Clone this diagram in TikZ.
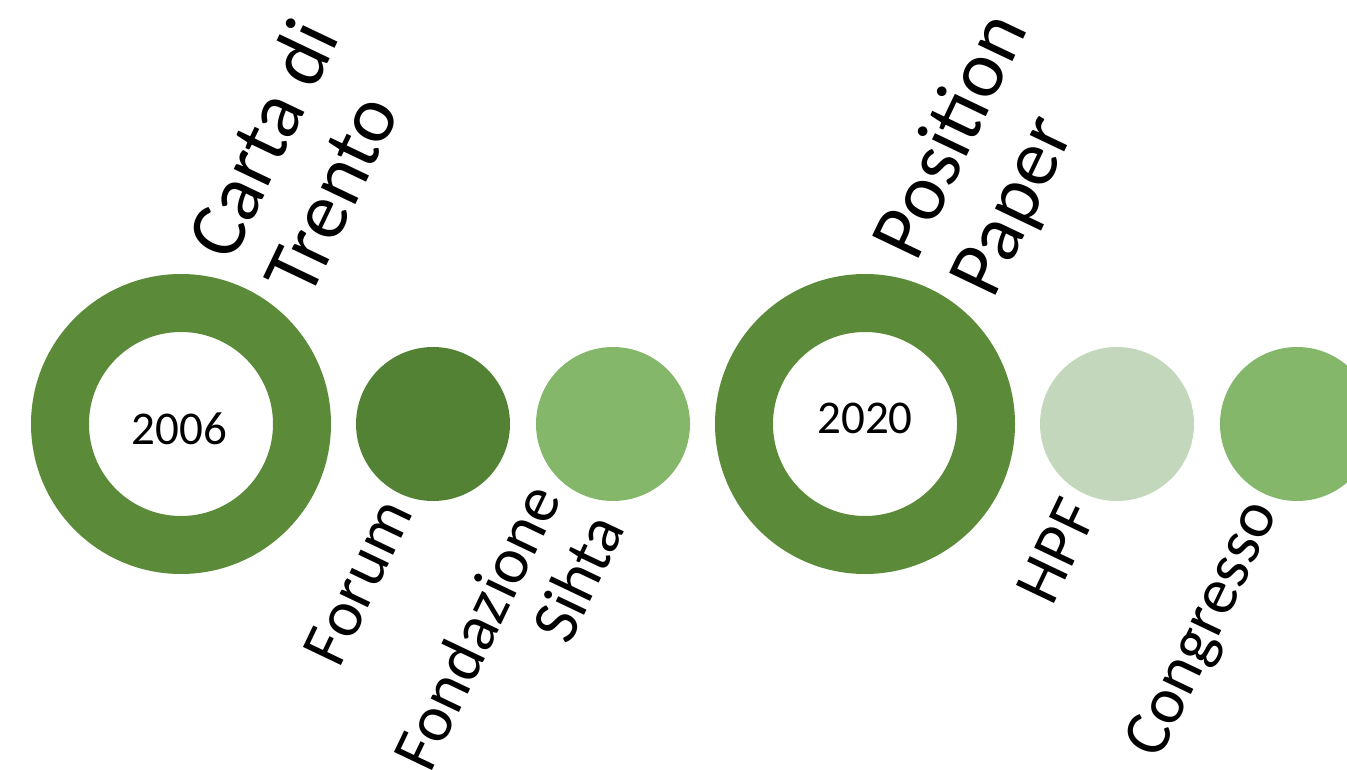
\documentclass[tikz,border=0pt]{standalone}
\usepackage{fontspec}
\setmainfont{Carlito}
\definecolor{ringgreen}{RGB}{91,139,57}
\definecolor{darkgreen}{RGB}{84,130,53}
\definecolor{midgreen}{RGB}{133,183,107}
\definecolor{palegreen}{RGB}{195,215,188}
\tikzset{
  ringnode/.style={circle, draw=ringgreen, line width=58pt, minimum size=242pt, inner sep=0pt},
  dotnode/.style={circle, draw=none, minimum size=154pt, inner sep=0pt},
  yeartext/.style={font=\fontsize{47}{57}\selectfont, inner sep=0pt},
  toplabel/.style={font=\fontsize{80}{86}\selectfont, rotate=64.5, align=left, anchor=base west, inner sep=0pt},
  botlabel/.style={font=\fontsize{65.5}{70.5}\selectfont, rotate=64.5, align=right, anchor=east, inner sep=0pt}
}
\begin{document}
\begin{tikzpicture}[x=1pt,y=-1pt]
\useasboundingbox (0,0) rectangle (1347,770);
\clip (0,0) rectangle (1347,770);
\node[ringnode] (r1) at (181,424) {};
\node[yeartext] (y1) at (179.5,429) {2006};
\node[dotnode, fill=darkgreen] (forum) at (433,424) {};
\node[dotnode, fill=midgreen] (fond) at (613,424) {};
\node[ringnode] (r2) at (865,424) {};
\node[yeartext] (y2) at (865,418) {2020};
\node[dotnode, fill=palegreen] (hpf) at (1117,424) {};
\node[dotnode, fill=midgreen] (congr) at (1297,424) {};
\node[toplabel] (t1) at (309.6,301) {Carta di\\Trento};
\node[toplabel] (t2) at (993.6,301) {Position\\Paper};
\node[botlabel] (l1) at (401.4,506.4) {\strut Forum};
\node[botlabel] (l2) at (581.4,506.4) {\strut Fondazione\\\strut Sihta};
\node[botlabel] (l3) at (1085.4,506.4) {\strut HPF};
\node[botlabel] (l4) at (1265.4,506.4) {\strut Congresso};
\end{tikzpicture}
\end{document}
